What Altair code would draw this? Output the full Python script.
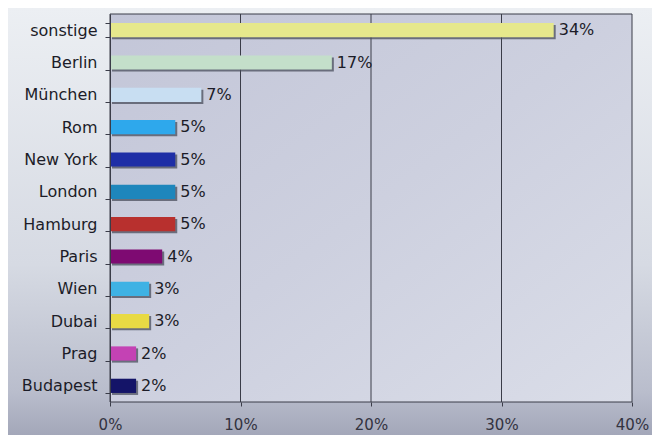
import altair as alt
import pandas as pd

cities = ["sonstige", "Berlin", "München", "Rom", "New York", "London",
          "Hamburg", "Paris", "Wien", "Dubai", "Prag", "Budapest"]
shares = [34, 17, 7, 5, 5, 5, 5, 4, 3, 3, 2, 2]
colors = ["#e6e88c", "#c4dfca", "#c8def2", "#2ea8ec", "#1e2ea6", "#1e86bc",
          "#b8302e", "#7e0a72", "#3eb2e4", "#e8da44", "#c442b4", "#141468"]
x_ticks = [0, 10, 20, 30, 40]

df = pd.DataFrame({"city": cities, "share": shares, "color": colors})
df["label"] = df["share"].astype(str) + "%"
grid_df = pd.DataFrame({"tick": x_ticks})
one = pd.DataFrame({"a": [0]})

W, H = 522, 388
PL, PT, PR, PB = 102, 6, 20, 33
FONT = "DejaVu Sans"

xscale = alt.Scale(domain=[0, 40], nice=False, zero=True)
yscale = alt.Scale(paddingInner=0.56, paddingOuter=0.28)

x_axis = alt.Axis(title=None, values=x_ticks, labelExpr="datum.value + '%'",
                  labelFontSize=15, labelFont=FONT, labelColor="#33333f",
                  labelPadding=11, tickSize=4, tickColor="#3a3c48",
                  labelFlush=False, labelOverlap=False,
                  domain=False, grid=False, zindex=1)
x_enc = alt.X("share:Q", scale=xscale, axis=x_axis, title=None)
y_enc = alt.Y("city:N", sort=cities, scale=yscale,
              axis=alt.Axis(title=None, labelFontSize=16, labelFont=FONT,
                            labelColor="#1c1c28", labelPadding=8,
                            tickBand="extent", tickSize=5, tickColor="#3a3c48",
                            domainColor="#3a3c48", zindex=1))

bg = alt.Chart(one).mark_rect(clip=False, color=alt.LinearGradient(
    gradient="linear", x1=0, x2=0, y1=0, y2=1,
    stops=[alt.GradientStop(color="#eceff3", offset=0),
           alt.GradientStop(color="#d6dae3", offset=0.6),
           alt.GradientStop(color="#b9bdcc", offset=0.9),
           alt.GradientStop(color="#a3a7b9", offset=1)])).encode(
    x=alt.value(-PL), x2=alt.value(W + PR), y=alt.value(-PT), y2=alt.value(H + PB))

plotbg = alt.Chart(one).mark_rect(color=alt.LinearGradient(
    gradient="linear", x1=0, x2=1, y1=0, y2=1,
    stops=[alt.GradientStop(color="#c3c6d8", offset=0),
           alt.GradientStop(color="#cdd0df", offset=0.5),
           alt.GradientStop(color="#dadde8", offset=1)])).encode(
    x=alt.value(0), x2=alt.value(W), y=alt.value(0), y2=alt.value(H))

grid = alt.Chart(grid_df).mark_rule(color="#3a3c48", strokeWidth=1).encode(
    x=alt.X("tick:Q", scale=xscale, axis=x_axis, title=None),
    y=alt.value(0), y2=alt.value(H))

border_top = alt.Chart(one).mark_rule(color="#3a3c48").encode(
    x=alt.value(0), x2=alt.value(W), y=alt.value(0))
border_bot = alt.Chart(one).mark_rule(color="#3a3c48").encode(
    x=alt.value(0), x2=alt.value(W), y=alt.value(H))

shadow = alt.Chart(df).mark_bar(color="#4a4e5c", opacity=0.75, xOffset=2, yOffset=2).encode(
    x=x_enc, y=y_enc)

bars = alt.Chart(df).mark_bar().encode(
    x=x_enc, y=y_enc, color=alt.Color("color:N", scale=None))

labels = alt.Chart(df).mark_text(align="left", baseline="middle", dx=5, fontSize=16,
                                 font=FONT, color="#1c1c28").encode(
    x=x_enc, y=y_enc, text="label:N")

chart = alt.layer(bg, plotbg, grid, border_top, border_bot, shadow, bars, labels).properties(
    width=W, height=H,
    autosize=alt.AutoSizeParams(type="none"),
    padding={"left": PL, "top": PT, "right": PR, "bottom": PB},
).configure_view(strokeWidth=0).configure(background="#e6e9ef")

chart.save("out.html", embed_options={"renderer": "svg", "actions": False})
